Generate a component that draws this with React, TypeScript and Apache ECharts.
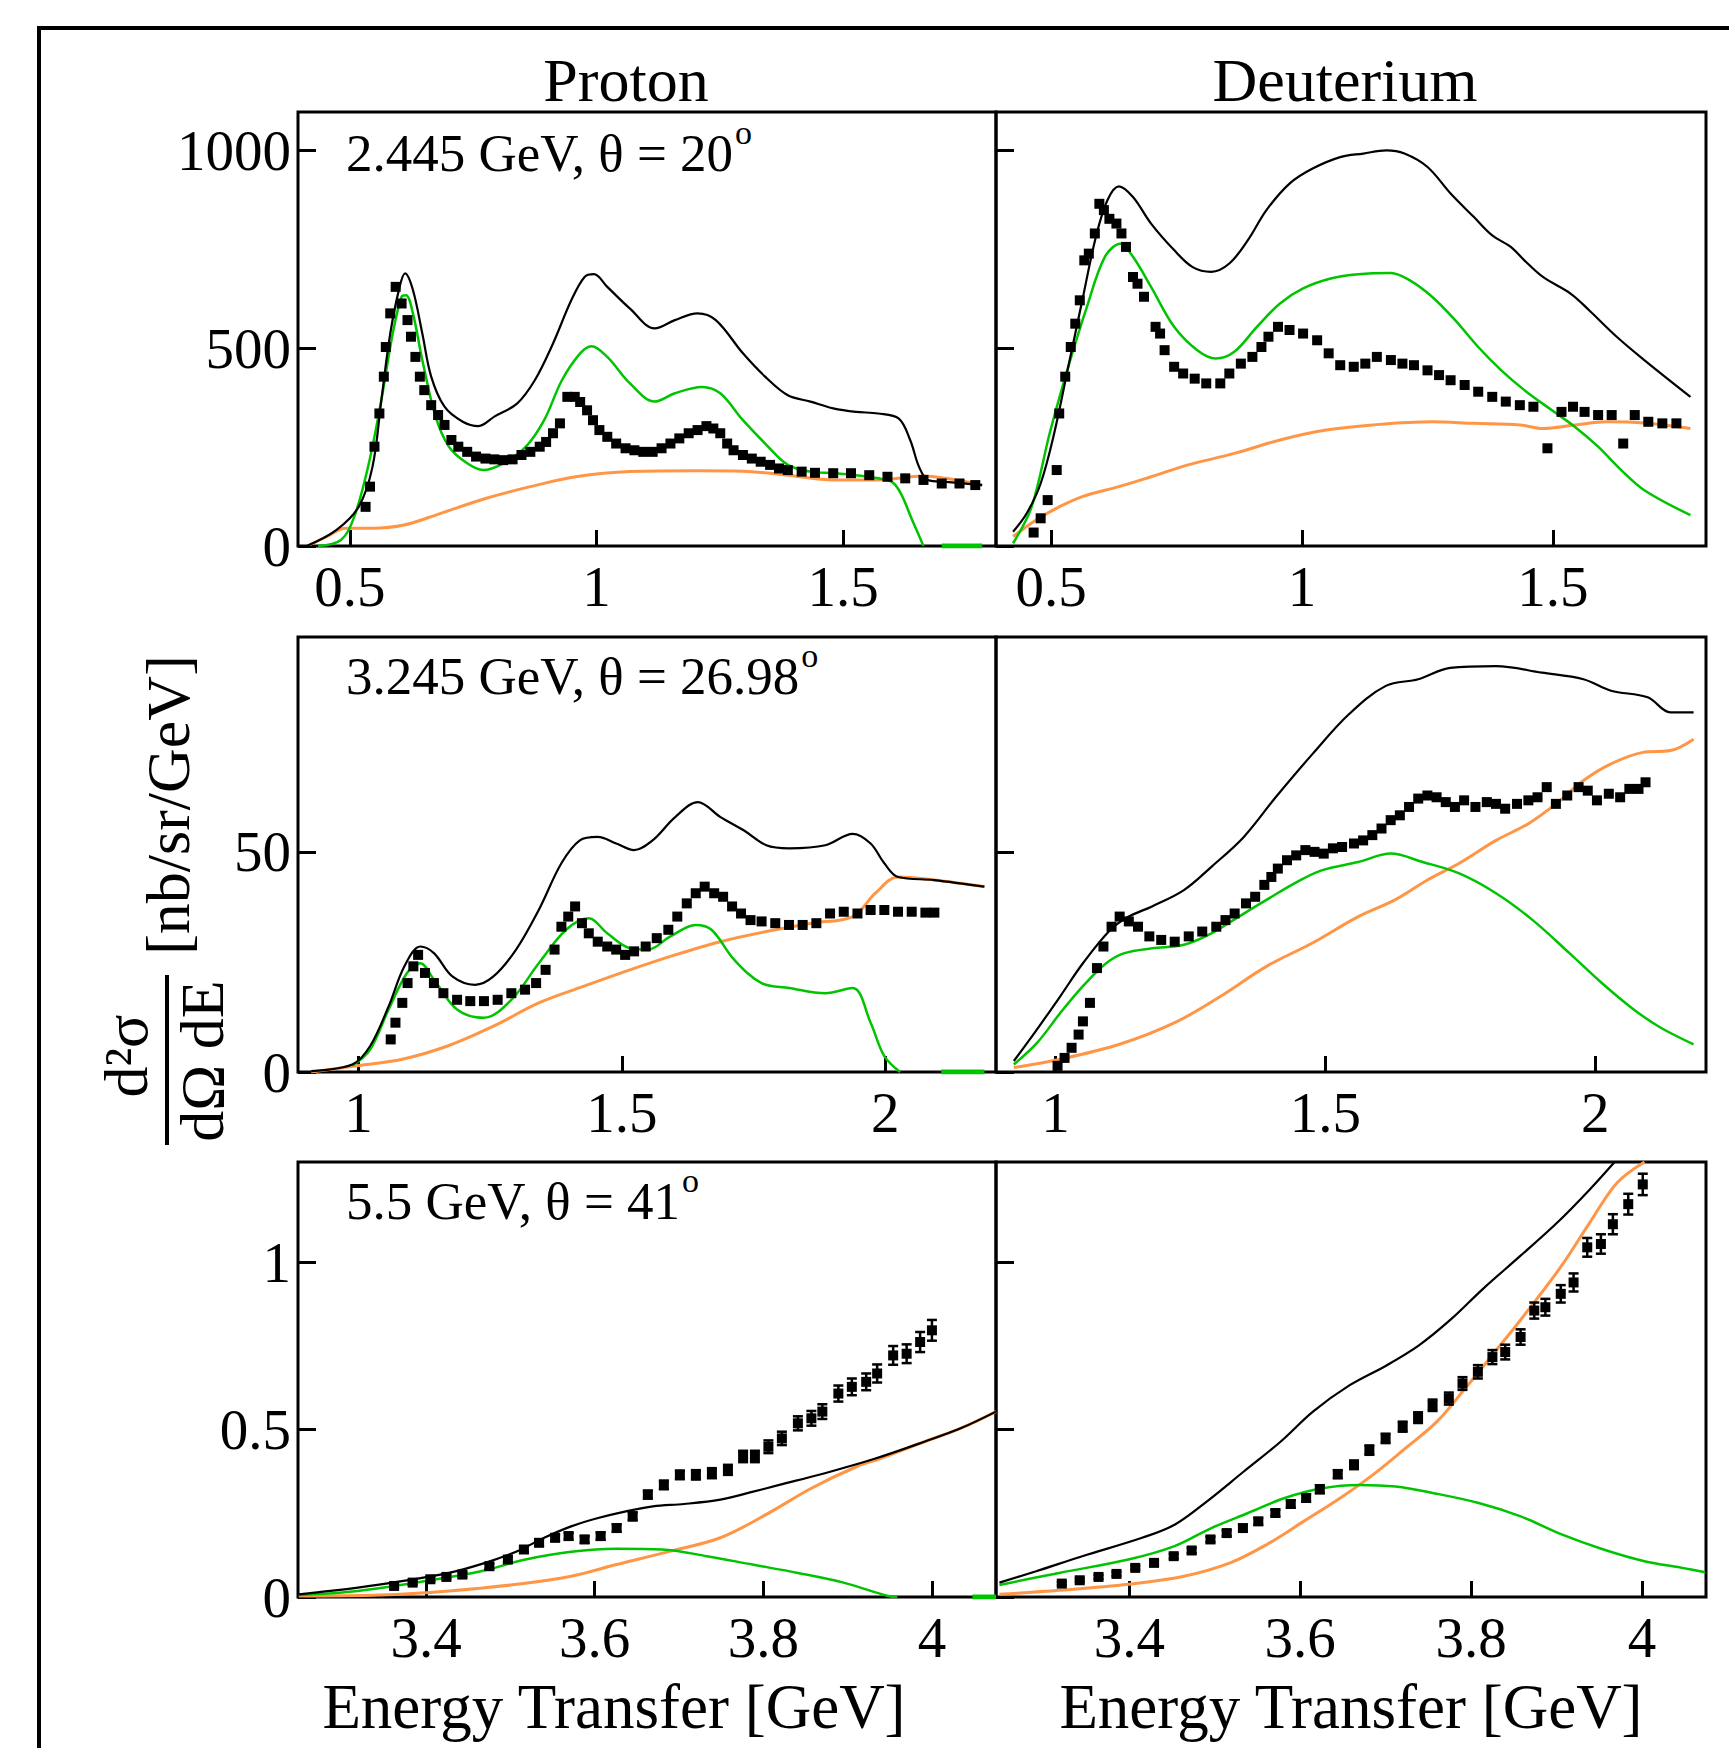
import React, { useEffect, useRef } from "react";
import * as echarts from "echarts";

const FONT = '"Liberation Serif", "Times New Roman", serif';

// ---------------- tick labels ----------------
const xTicksRow1 = [0.5, 1, 1.5];
const xTicksRow2 = [1, 1.5, 2];
const xTicksRow3 = [3.4, 3.6, 3.8, 4];
const yTicksRow1 = [0, 500, 1000];
const yTicksRow2 = [0, 50];
const yTicksRow3 = [0, 0.5, 1];

const columnTitles = ["Proton", "Deuterium"];
const panelLabels = ["2.445 GeV, θ = 20", "3.245 GeV, θ = 26.98", "5.5 GeV, θ = 41"];
const xTitle = "Energy Transfer [GeV]";

// ---------------- Proton, 2.445 GeV ----------------
const p1Total = [[0.413,0],[0.4725,40],[0.518,99],[0.546,200],[0.564,369],[0.582,537],[0.601,655],[0.612,689],[0.628,647],[0.647,537],[0.665,428],[0.692,352],[0.729,314],[0.761,303],[0.793,327],[0.839,360],[0.875,419],[0.912,512],[0.949,621],[0.976,680],[0.995,687],[1.022,655],[1.068,600],[1.118,550],[1.159,571],[1.205,588],[1.242,571],[1.297,487],[1.342,428],[1.388,381],[1.434,365],[1.48,348],[1.526,339],[1.571,335],[1.613,322],[1.636,268],[1.654,200],[1.672,167],[1.709,162],[1.782,154]];
const p1Res = [[0.436,0],[0.482,15],[0.509,74],[0.537,200],[0.564,369],[0.587,537],[0.605,630],[0.614,634],[0.628,588],[0.647,470],[0.674,327],[0.701,251],[0.738,209],[0.77,192],[0.811,209],[0.857,251],[0.894,318],[0.93,419],[0.967,487],[0.99,505],[1.022,478],[1.068,411],[1.118,365],[1.159,386],[1.214,402],[1.251,386],[1.297,318],[1.342,259],[1.388,205],[1.434,188],[1.48,184],[1.526,179],[1.571,171],[1.599,162],[1.617,133],[1.64,66],[1.663,0]];
const p1ResTail = [[1.70,0],[1.782,0]];
const p1Dis = [[0.418,3],[0.454,24],[0.491,45],[0.546,45],[0.61,53],[0.683,82],[0.775,120],[0.866,150],[0.958,175],[1.068,188],[1.205,190],[1.297,189],[1.388,179],[1.48,167],[1.571,167],[1.663,177],[1.709,171],[1.782,154]];
const p1Data = [[0.532,99],[0.541,150],[0.55,251],[0.56,335],[0.569,428],[0.573,503],[0.582,588],[0.593,655],[0.605,613],[0.617,571],[0.624,529],[0.633,478],[0.642,428],[0.651,394],[0.665,356],[0.679,331],[0.692,306],[0.706,268],[0.72,251],[0.738,238],[0.756,226],[0.775,221],[0.793,219],[0.811,217],[0.83,219],[0.848,230],[0.866,238],[0.885,251],[0.898,263],[0.912,285],[0.926,310],[0.941,377],[0.956,377],[0.967,364],[0.981,343],[0.993,318],[1.006,293],[1.022,276],[1.04,259],[1.059,247],[1.077,242],[1.095,238],[1.114,238],[1.132,247],[1.15,259],[1.168,272],[1.187,285],[1.205,293],[1.223,303],[1.237,297],[1.251,285],[1.265,259],[1.278,242],[1.297,230],[1.315,221],[1.333,213],[1.352,205],[1.37,196],[1.388,192],[1.416,188],[1.443,185],[1.48,184],[1.516,184],[1.553,179],[1.59,175],[1.626,171],[1.663,167],[1.7,158],[1.736,158],[1.768,154]];

// ---------------- Deuterium, 2.445 GeV ----------------
const d1Total = [[0.424,36],[0.451,82],[0.479,158],[0.506,285],[0.534,453],[0.562,621],[0.589,781],[0.612,874],[0.635,909],[0.663,882],[0.699,815],[0.745,748],[0.782,705],[0.819,693],[0.855,714],[0.892,773],[0.929,849],[0.975,916],[1.021,954],[1.076,983],[1.122,992],[1.168,1000],[1.204,992],[1.25,958],[1.296,891],[1.342,832],[1.379,785],[1.416,756],[1.443,722],[1.48,680],[1.535,638],[1.572,596],[1.627,529],[1.682,470],[1.774,377]];
const d1Res = [[0.424,7],[0.461,99],[0.497,285],[0.534,453],[0.571,604],[0.607,731],[0.638,764],[0.663,731],[0.699,655],[0.745,554],[0.791,495],[0.828,474],[0.865,491],[0.91,554],[0.956,613],[1.002,651],[1.057,676],[1.112,687],[1.177,690],[1.214,672],[1.259,630],[1.305,571],[1.351,503],[1.397,444],[1.443,394],[1.498,343],[1.544,301],[1.59,251],[1.636,192],[1.682,141],[1.774,78]];
const d1Dis = [[0.424,24],[0.47,66],[0.516,99],[0.562,125],[0.635,150],[0.699,175],[0.773,205],[0.865,234],[0.956,268],[1.048,293],[1.14,306],[1.259,314],[1.342,310],[1.434,306],[1.48,297],[1.544,306],[1.608,314],[1.682,311],[1.774,297]];
const d1Data = [[0.465,34],[0.479,70],[0.493,116],[0.511,192],[0.516,335],[0.528,428],[0.539,503],[0.548,562],[0.557,621],[0.566,722],[0.575,739],[0.587,790],[0.596,865],[0.605,849],[0.616,827],[0.63,815],[0.64,790],[0.649,756],[0.663,680],[0.672,663],[0.685,630],[0.708,554],[0.717,537],[0.726,495],[0.745,453],[0.763,436],[0.786,423],[0.809,411],[0.837,411],[0.855,436],[0.878,461],[0.901,478],[0.919,503],[0.933,529],[0.952,554],[0.975,546],[1.002,537],[1.03,520],[1.053,487],[1.076,457],[1.103,453],[1.126,461],[1.149,478],[1.177,470],[1.2,461],[1.223,457],[1.25,444],[1.273,432],[1.296,419],[1.324,407],[1.351,390],[1.379,377],[1.406,365],[1.434,356],[1.461,352],[1.489,247],[1.517,339],[1.54,352],[1.563,339],[1.59,331],[1.617,331],[1.64,259],[1.663,331],[1.69,314],[1.718,310],[1.746,310]];

// ---------------- Proton, 3.245 GeV ----------------
const p2Total = [[0.91,0.2],[0.988,1.7],[1.022,5.9],[1.057,14.9],[1.087,24.0],[1.117,28.5],[1.143,27.0],[1.178,21.7],[1.221,19.8],[1.256,21.7],[1.299,27.8],[1.342,36.8],[1.385,47.4],[1.42,52.6],[1.454,53.4],[1.489,51.9],[1.523,50.4],[1.558,52.6],[1.601,57.9],[1.644,61.3],[1.687,57.9],[1.731,54.9],[1.774,51.5],[1.817,50.8],[1.886,51.5],[1.938,54.1],[1.972,51.9],[1.998,47.4],[2.024,44.3],[2.093,43.6],[2.188,42.1]];
const p2Res = [[0.988,1.4],[1.022,5.1],[1.057,14.2],[1.092,22.5],[1.117,24.7],[1.143,21.0],[1.187,14.2],[1.238,12.3],[1.29,16.4],[1.342,24.7],[1.394,32.3],[1.437,34.9],[1.472,31.5],[1.515,28.1],[1.549,27.8],[1.592,30.8],[1.64,33.4],[1.67,32.3],[1.713,25.5],[1.765,20.2],[1.817,19.1],[1.886,17.9],[1.938,19.1],[1.972,11.2],[1.998,3.6],[2.028,0]];
const p2ResTail = [[2.106,0],[2.188,0]];
const p2Dis = [[0.91,0],[0.996,1.4],[1.083,2.9],[1.169,5.9],[1.256,10.4],[1.342,15.7],[1.428,19.5],[1.515,23.2],[1.601,26.6],[1.687,29.6],[1.774,31.9],[1.86,33.8],[1.938,35.3],[1.981,40.6],[2.024,44.3],[2.093,43.6],[2.188,42.1]];
const p2Data = [[1.061,7.4],[1.07,11.2],[1.083,15.7],[1.093,20.2],[1.104,24.0],[1.113,26.6],[1.126,22.5],[1.143,20.2],[1.161,17.9],[1.187,16.4],[1.212,16.1],[1.238,16.1],[1.264,16.4],[1.29,17.9],[1.316,18.7],[1.337,20.2],[1.355,23.2],[1.372,27.8],[1.385,33.0],[1.398,35.3],[1.411,37.6],[1.424,33.8],[1.437,31.5],[1.454,29.6],[1.472,28.5],[1.489,27.8],[1.506,26.6],[1.523,27.4],[1.545,28.5],[1.566,30.4],[1.588,32.3],[1.605,35.3],[1.623,38.3],[1.64,40.6],[1.657,42.1],[1.675,40.6],[1.692,39.8],[1.709,37.6],[1.726,36.0],[1.744,34.5],[1.765,34.2],[1.791,33.8],[1.817,33.4],[1.843,33.4],[1.869,33.8],[1.895,36.0],[1.921,36.4],[1.947,36.0],[1.972,36.8],[1.998,36.8],[2.024,36.4],[2.05,36.4],[2.076,36.2],[2.093,36.2]];

// ---------------- Deuterium, 3.245 GeV ----------------
const d2Total = [[0.923,2.5],[0.966,9.7],[1.009,17.2],[1.051,24.7],[1.102,32.3],[1.136,35.3],[1.179,37.6],[1.238,41.3],[1.289,46.6],[1.349,53.4],[1.408,62.4],[1.476,72.2],[1.544,81.3],[1.612,87.7],[1.672,89.2],[1.731,91.8],[1.816,92.2],[1.901,90.7],[1.978,89.2],[2.029,86.6],[2.097,85.1],[2.139,81.7],[2.182,81.7]];
const d2Res = [[0.923,1.7],[0.966,6.6],[1.009,13.4],[1.051,19.5],[1.094,24.7],[1.128,27.0],[1.179,28.1],[1.238,28.9],[1.289,31.5],[1.34,35.3],[1.391,39.1],[1.442,42.8],[1.493,45.8],[1.561,47.7],[1.621,49.6],[1.68,47.7],[1.748,45.1],[1.816,40.6],[1.884,34.5],[1.952,27.0],[2.012,20.2],[2.071,14.2],[2.122,10.0],[2.182,6.3]];
const d2Dis = [[0.923,1.0],[1.009,2.9],[1.119,6.3],[1.221,11.2],[1.306,17.2],[1.391,24.0],[1.476,29.3],[1.561,35.3],[1.629,39.1],[1.689,43.6],[1.748,47.4],[1.816,52.6],[1.876,56.4],[1.927,60.9],[1.978,66.2],[2.029,70.0],[2.088,72.6],[2.139,73.0],[2.182,75.6]];
const d2Data = [[1.004,1.4],[1.017,3.2],[1.03,5.5],[1.043,8.5],[1.051,11.5],[1.064,15.7],[1.077,23.6],[1.089,28.5],[1.104,33.0],[1.119,35.3],[1.136,34.2],[1.153,33.0],[1.174,30.8],[1.196,30.0],[1.221,29.6],[1.247,30.8],[1.272,31.9],[1.298,33.0],[1.315,34.5],[1.332,36.0],[1.353,38.3],[1.37,39.8],[1.387,42.5],[1.4,44.3],[1.412,46.2],[1.429,48.1],[1.446,49.2],[1.463,50.4],[1.48,50.0],[1.497,49.6],[1.514,50.8],[1.531,51.1],[1.553,51.9],[1.57,52.6],[1.587,53.8],[1.604,55.3],[1.621,57.2],[1.638,58.3],[1.655,60.2],[1.672,62.1],[1.689,62.8],[1.706,62.4],[1.723,61.3],[1.74,60.2],[1.757,61.7],[1.778,60.2],[1.799,61.3],[1.816,60.9],[1.833,59.8],[1.855,60.9],[1.876,61.7],[1.893,62.4],[1.91,64.7],[1.927,60.9],[1.948,62.8],[1.969,64.7],[1.986,63.9],[2.003,61.7],[2.025,63.2],[2.046,62.4],[2.063,64.3],[2.08,64.3],[2.093,65.8]];

// ---------------- Proton, 5.5 GeV ----------------
const p3Total = [[3.249,0.008],[3.319,0.028],[3.373,0.048],[3.427,0.072],[3.47,0.102],[3.508,0.137],[3.54,0.177],[3.572,0.211],[3.604,0.236],[3.637,0.256],[3.669,0.271],[3.706,0.278],[3.749,0.291],[3.782,0.311],[3.819,0.335],[3.873,0.37],[3.932,0.413],[3.991,0.464],[4.034,0.504],[4.076,0.554]];
const p3Res = [[3.249,0.006],[3.319,0.018],[3.4,0.048],[3.465,0.077],[3.518,0.112],[3.572,0.135],[3.626,0.144],[3.68,0.142],[3.733,0.122],[3.787,0.097],[3.841,0.072],[3.895,0.043],[3.948,0.003],[3.959,0]];
const p3ResTail = [[4.048,0],[4.076,0]];
const p3Dis = [[3.249,0.003],[3.346,0.006],[3.427,0.018],[3.508,0.038],[3.572,0.062],[3.626,0.097],[3.69,0.137],[3.749,0.177],[3.803,0.246],[3.857,0.325],[3.911,0.39],[3.938,0.413],[3.991,0.464],[4.034,0.504],[4.076,0.554]];
// [energy, value, error]
const p3Data = [[3.362,0.033,0.006],[3.384,0.043,0.006],[3.405,0.053,0.007],[3.424,0.06,0.007],[3.443,0.067,0.007],[3.475,0.092,0.008],[3.497,0.112,0.008],[3.516,0.142,0.009],[3.534,0.162,0.009],[3.553,0.177,0.01],[3.569,0.182,0.01],[3.588,0.172,0.01],[3.607,0.182,0.011],[3.626,0.206,0.011],[3.645,0.241,0.012],[3.663,0.306,0.012],[3.682,0.335,0.013],[3.701,0.365,0.013],[3.72,0.365,0.014],[3.739,0.37,0.015],[3.758,0.38,0.015],[3.776,0.42,0.017],[3.79,0.42,0.017],[3.806,0.449,0.019],[3.822,0.474,0.02],[3.841,0.519,0.021],[3.857,0.534,0.022],[3.87,0.554,0.022],[3.889,0.608,0.024],[3.905,0.628,0.025],[3.922,0.643,0.025],[3.935,0.668,0.027],[3.954,0.722,0.028],[3.97,0.727,0.028],[3.986,0.762,0.03],[4.0,0.797,0.031]];

// ---------------- Deuterium, 5.5 GeV ----------------
const d3Total = [[3.248,0.043],[3.291,0.077],[3.345,0.122],[3.415,0.177],[3.453,0.216],[3.491,0.286],[3.534,0.375],[3.577,0.464],[3.615,0.554],[3.658,0.633],[3.701,0.692],[3.739,0.752],[3.777,0.831],[3.814,0.921],[3.858,1.02],[3.901,1.119],[3.939,1.218],[3.968,1.3]];
const d3Res = [[3.248,0.036],[3.318,0.072],[3.399,0.112],[3.453,0.152],[3.496,0.206],[3.539,0.251],[3.582,0.296],[3.626,0.325],[3.669,0.335],[3.712,0.33],[3.755,0.311],[3.809,0.281],[3.858,0.241],[3.906,0.187],[3.955,0.142],[4.003,0.107],[4.047,0.087],[4.074,0.074]];
const d3Dis = [[3.248,0.008],[3.318,0.02],[3.399,0.038],[3.464,0.062],[3.518,0.102],[3.561,0.157],[3.604,0.226],[3.647,0.296],[3.685,0.365],[3.723,0.444],[3.76,0.524],[3.793,0.623],[3.831,0.742],[3.868,0.861],[3.906,0.99],[3.939,1.119],[3.971,1.238],[4.003,1.3]];
const d3Data = [[3.321,0.04,0.005],[3.342,0.05,0.005],[3.364,0.06,0.006],[3.385,0.069,0.006],[3.407,0.087,0.006],[3.429,0.102,0.007],[3.452,0.122,0.007],[3.473,0.139,0.008],[3.495,0.172,0.008],[3.514,0.191,0.009],[3.533,0.206,0.009],[3.551,0.226,0.01],[3.571,0.251,0.01],[3.589,0.278,0.011],[3.607,0.296,0.011],[3.623,0.322,0.012],[3.644,0.367,0.012],[3.663,0.395,0.013],[3.681,0.439,0.014],[3.7,0.474,0.014],[3.72,0.509,0.015],[3.738,0.536,0.016],[3.755,0.573,0.017],[3.774,0.593,0.018],[3.79,0.638,0.019],[3.808,0.673,0.02],[3.825,0.717,0.021],[3.84,0.732,0.022],[3.858,0.777,0.023],[3.874,0.856,0.024],[3.887,0.866,0.025],[3.905,0.906,0.026],[3.92,0.94,0.027],[3.936,1.045,0.028],[3.952,1.055,0.029],[3.966,1.114,0.03],[3.984,1.174,0.031],[4.001,1.233,0.032]];

// ---------------- layout ----------------
const COLS = [{ left: 298, width: 698 }, { left: 996, width: 710 }];
const ROWS = [{ top: 112, height: 434 }, { top: 637, height: 435 }, { top: 1162, height: 435 }];

const PANELS = [
  { r: 0, c: 0, xMin: 0.395, xMax: 1.81, yMax: 1097, xt: xTicksRow1, yt: yTicksRow1, total: p1Total, res: p1Res, tail: p1ResTail, dis: p1Dis, data: p1Data, err: false },
  { r: 0, c: 1, xMin: 0.39, xMax: 1.805, yMax: 1097, xt: xTicksRow1, yt: yTicksRow1, total: d1Total, res: d1Res, tail: null, dis: d1Dis, data: d1Data, err: false },
  { r: 1, c: 0, xMin: 0.885, xMax: 2.21, yMax: 98.8, xt: xTicksRow2, yt: yTicksRow2, total: p2Total, res: p2Res, tail: p2ResTail, dis: p2Dis, data: p2Data, err: false },
  { r: 1, c: 1, xMin: 0.89, xMax: 2.205, yMax: 98.8, xt: xTicksRow2, yt: yTicksRow2, total: d2Total, res: d2Res, tail: null, dis: d2Dis, data: d2Data, err: false },
  { r: 2, c: 0, xMin: 3.248, xMax: 4.076, yMax: 1.3, xt: xTicksRow3, yt: yTicksRow3, total: p3Total, res: p3Res, tail: p3ResTail, dis: p3Dis, data: p3Data, err: true },
  { r: 2, c: 1, xMin: 3.244, xMax: 4.075, yMax: 1.3, xt: xTicksRow3, yt: yTicksRow3, total: d3Total, res: d3Res, tail: null, dis: d3Dis, data: d3Data, err: true },
];

const BLACK = "#000000";
const GREEN = "#00c400";
const ORANGE = "#ff9646";

function measure(text: string, size: number) {
  const ctx = document.createElement("canvas").getContext("2d");
  if (!ctx) return text.length * size * 0.5;
  ctx.font = `${size}px ${FONT}`;
  return ctx.measureText(text).width;
}

function buildOption() {
  const grid: any[] = [];
  const xAxis: any[] = [];
  const yAxis: any[] = [];
  const series: any[] = [];

  PANELS.forEach((p, i) => {
    grid.push({
      left: COLS[p.c].left,
      width: COLS[p.c].width,
      top: ROWS[p.r].top,
      height: ROWS[p.r].height,
      show: true,
      borderColor: "#000",
      borderWidth: 3,
      backgroundColor: "transparent",
      containLabel: false,
    });
    xAxis.push({
      type: "value",
      gridIndex: i,
      min: p.xMin,
      max: p.xMax,
      axisLine: { show: false },
      splitLine: { show: false },
      axisTick: { show: true, inside: true, length: 16, customValues: p.xt, lineStyle: { color: "#000", width: 3 } },
      axisLabel: {
        show: true,
        customValues: p.xt,
        formatter: (v: number) => String(v),
        fontFamily: FONT,
        fontSize: 57,
        color: "#000",
        margin: 12,
      },
    });
    yAxis.push({
      type: "value",
      gridIndex: i,
      min: 0,
      max: p.yMax,
      axisLine: { show: false },
      splitLine: { show: false },
      axisTick: { show: true, inside: true, length: 18, customValues: p.yt, lineStyle: { color: "#000", width: 3 } },
      axisLabel: {
        show: p.c === 0,
        customValues: p.yt,
        formatter: (v: number) => String(v),
        fontFamily: FONT,
        fontSize: 57,
        color: "#000",
        margin: 7,
      },
    });

    const common = { xAxisIndex: i, yAxisIndex: i, showSymbol: false, symbol: "none", clip: true, silent: true };
    series.push({ ...common, type: "line", name: `dis${i}`, data: p.dis, smooth: 0.35, lineStyle: { color: ORANGE, width: 3 }, z: 2 });
    series.push({ ...common, type: "line", name: `res${i}`, data: p.res, smooth: 0.35, lineStyle: { color: GREEN, width: 2.5 }, z: 3 });
    if (p.tail) {
      series.push({ ...common, type: "line", name: `tail${i}`, data: p.tail, lineStyle: { color: GREEN, width: 5 }, z: 3 });
    }
    series.push({ ...common, type: "line", name: `tot${i}`, data: p.total, smooth: 0.35, lineStyle: { color: BLACK, width: 2.2 }, z: 4 });
    series.push({
      type: "scatter",
      name: `data${i}`,
      xAxisIndex: i,
      yAxisIndex: i,
      data: p.data,
      symbol: "rect",
      symbolSize: 10,
      itemStyle: { color: "#000", opacity: 1 },
      z: 5,
      silent: true,
    });
    if (p.err) {
      series.push({
        type: "custom",
        name: `err${i}`,
        xAxisIndex: i,
        yAxisIndex: i,
        data: p.data,
        encode: { x: 0, y: 1 },
        z: 5,
        silent: true,
        clip: true,
        renderItem: (params: any, api: any) => {
          const x = api.value(0);
          const y = api.value(1);
          const e = api.value(2);
          const a = api.coord([x, y + e]);
          const b = api.coord([x, y - e]);
          const w = 5;
          const st = { stroke: "#000", lineWidth: 2.5 };
          return {
            type: "group",
            children: [
              { type: "line", shape: { x1: a[0], y1: a[1], x2: b[0], y2: b[1] }, style: st },
              { type: "line", shape: { x1: a[0] - w, y1: a[1], x2: a[0] + w, y2: a[1] }, style: st },
              { type: "line", shape: { x1: b[0] - w, y1: b[1], x2: b[0] + w, y2: b[1] }, style: st },
            ],
          };
        },
      });
    }
  });

  const ANN = 53;
  const labelY = [153, 676, 1201];
  const graphic: any[] = [
    { type: "rect", silent: true, shape: { x: 39, y: 28, width: 1760, height: 1780 }, style: { fill: "none", stroke: "#000", lineWidth: 4 }, z: 100 },
    { type: "text", x: 626, y: 80, style: { text: columnTitles[0], fontFamily: FONT, fontSize: 62, fill: "#000", textAlign: "center", textVerticalAlign: "middle" } },
    { type: "text", x: 1345, y: 80, style: { text: columnTitles[1], fontFamily: FONT, fontSize: 62, fill: "#000", textAlign: "center", textVerticalAlign: "middle" } },
    { type: "text", x: 614, y: 1707, style: { text: xTitle, fontFamily: FONT, fontSize: 63, fill: "#000", textAlign: "center", textVerticalAlign: "middle" } },
    { type: "text", x: 1351, y: 1707, style: { text: xTitle, fontFamily: FONT, fontSize: 63, fill: "#000", textAlign: "center", textVerticalAlign: "middle" } },
    { type: "text", x: 168, y: 805, rotation: Math.PI / 2, style: { text: "[nb/sr/GeV]", fontFamily: FONT, fontSize: 62, fill: "#000", textAlign: "center", textVerticalAlign: "middle" } },
    { type: "text", x: 126, y: 1056, rotation: Math.PI / 2, style: { text: "d²σ", fontFamily: FONT, fontSize: 62, fill: "#000", textAlign: "center", textVerticalAlign: "middle" } },
    { type: "text", x: 202, y: 1061, rotation: Math.PI / 2, style: { text: "dΩ dE", fontFamily: FONT, fontSize: 62, fill: "#000", textAlign: "center", textVerticalAlign: "middle" } },
    { type: "line", silent: true, shape: { x1: 167, y1: 975, x2: 167, y2: 1145 }, style: { stroke: "#000", lineWidth: 4 } },
  ];
  panelLabels.forEach((t, k) => {
    const w = measure(t, ANN);
    graphic.push({ type: "text", x: 346, y: labelY[k], style: { text: t, fontFamily: FONT, fontSize: ANN, fill: "#000", textAlign: "left", textVerticalAlign: "middle" } });
    graphic.push({ type: "text", x: 346 + w + 2, y: labelY[k] - 21, style: { text: "o", fontFamily: FONT, fontSize: 34, fill: "#000", textAlign: "left", textVerticalAlign: "middle" } });
  });

  return {
    animation: false,
    backgroundColor: "#fff",
    grid,
    xAxis,
    yAxis,
    series,
    graphic: { elements: graphic },
  };
}

export default function App() {
  const ref = useRef<HTMLDivElement>(null);
  useEffect(() => {
    document.body.style.margin = "0";
    if (!ref.current) return;
    const chart = echarts.init(ref.current, undefined, { renderer: "svg" });
    chart.setOption(buildOption() as any);
    return () => {
      chart.dispose();
    };
  }, []);
  return <div ref={ref} style={{ width: 1729, height: 1748 }} />;
}
